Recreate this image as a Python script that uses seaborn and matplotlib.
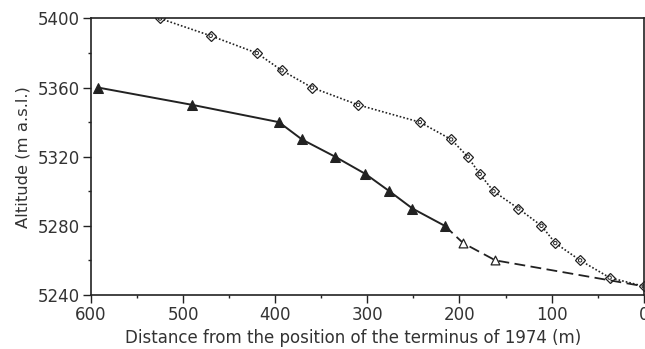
import numpy as np
import pandas as pd
import matplotlib
matplotlib.use("Agg")
import matplotlib.pyplot as plt
from matplotlib.ticker import MultipleLocator
import seaborn as sns

sns.set_style("ticks")
plt.rcParams['font.family'] = ['DejaVu Sans']

# surface profile (open diamonds, dotted)
dist_upper = [525, 470, 420, 393, 360, 310, 243, 209, 191, 178, 163, 136, 111, 96, 69, 37, 0]
alt_upper = [5400, 5390, 5380, 5370, 5360, 5350, 5340, 5330, 5320, 5310, 5300, 5290, 5280, 5270, 5260, 5250, 5245]

# measured profile (filled triangles, solid)
dist_lower = [592, 490, 396, 371, 335, 302, 276, 251, 216]
alt_lower = [5360, 5350, 5340, 5330, 5320, 5310, 5300, 5290, 5280]

# extrapolated part (open triangles, dashed)
dist_ext = [216, 196, 161, 0]
alt_ext = [5280, 5270, 5260, 5245]
dist_open = [196, 161]
alt_open = [5270, 5260]

ink = '#222222'

fig = plt.figure(figsize=(6.45, 3.49), dpi=100)
ax = fig.add_axes([0.141, 0.155, 0.857, 0.792])

sns.lineplot(x=dist_upper, y=alt_upper, ax=ax, color=ink, linestyle=(0, (1, 1.2)),
             linewidth=1.2, marker='D', markersize=5.2, markerfacecolor='white',
             markeredgecolor=ink, markeredgewidth=0.9, sort=False)
sns.scatterplot(x=dist_upper, y=alt_upper, ax=ax, marker='o', s=6, facecolor='none',
                edgecolor=ink, linewidth=0.7, zorder=4)
sns.lineplot(x=dist_ext, y=alt_ext, ax=ax, color=ink, linestyle=(0, (6, 3)),
             linewidth=1.3, sort=False)
sns.scatterplot(x=dist_open, y=alt_open, ax=ax, marker='^', s=40, facecolor='white',
                edgecolor=ink, linewidth=0.9, zorder=4)
sns.lineplot(x=dist_lower, y=alt_lower, ax=ax, color=ink, linewidth=1.4, marker='^',
             markersize=7, markerfacecolor=ink, markeredgecolor=ink, sort=False)

ax.set_xlim(600, 0)
ax.set_ylim(5240, 5400)
ax.xaxis.set_major_locator(MultipleLocator(100))
ax.xaxis.set_minor_locator(MultipleLocator(50))
ax.yaxis.set_major_locator(MultipleLocator(40))
ax.yaxis.set_minor_locator(MultipleLocator(20))
ax.tick_params(which='major', length=5.5, width=1, color=ink, labelsize=12,
               labelcolor='#333333', pad=2.5)
ax.tick_params(which='minor', length=2.5, width=1, color=ink)
for s in ax.spines.values():
    s.set_color(ink)
    s.set_linewidth(1.2)

ax.set_xlabel('Distance from the position of the terminus of 1974 (m)', fontsize=12,
              color='#333333')
ax.xaxis.set_label_coords(0.475, -0.122)
ax.set_ylabel('Altitude (m a.s.l.)', fontsize=11.8, color='#333333', labelpad=5)

fig.savefig('out.png', dpi=100, facecolor='white')
